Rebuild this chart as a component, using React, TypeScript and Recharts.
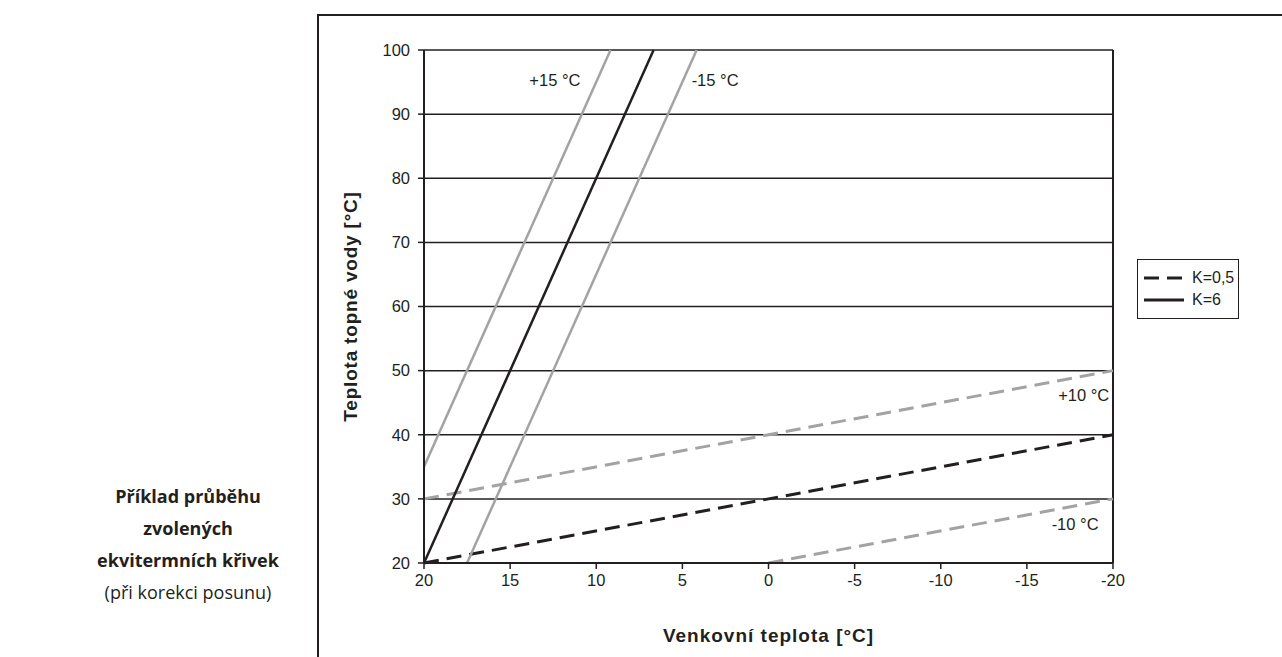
import {
  CartesianGrid,
  Line,
  LineChart,
  ReferenceDot,
  ReferenceLine,
  XAxis,
  YAxis,
} from "recharts";

const W = 1282;
const H = 657;
const INK = "#231f20";
const GREY = "#a3a3a3";
const FONT = "'Liberation Sans', Arial, sans-serif";

type Pt = { x: number; y: number };

// outdoor temperature axis runs from +20 down to -20
const X_TICKS = [20, 15, 10, 5, 0, -5, -10, -15, -20];
const Y_TICKS = [20, 30, 40, 50, 60, 70, 80, 90, 100];

// steep curves, K=6
const k6Base: Pt[] = [
  { x: 20, y: 20 },
  { x: 6.67, y: 100 },
];
const k6Plus15: Pt[] = [
  { x: 20, y: 35 },
  { x: 9.17, y: 100 },
];
const k6Minus15: Pt[] = [
  { x: 17.5, y: 20 },
  { x: 4.17, y: 100 },
];

// flat curves, K=0,5
const k05Base: Pt[] = [
  { x: 20, y: 20 },
  { x: -20, y: 40 },
];
const k05Plus10: Pt[] = [
  { x: 20, y: 30 },
  { x: -20, y: 50 },
];
const k05Minus10: Pt[] = [
  { x: 0, y: 20 },
  { x: -20, y: 30 },
];

const SHIFT_LABELS = [
  { text: "+15 °C", x: 12.4, y: 95.3 },
  { text: "-15 °C", x: 3.1, y: 95.3 },
  { text: "+10 °C", x: -18.3, y: 46.2 },
  { text: "-10 °C", x: -17.8, y: 26.1 },
];

const LEGEND = [
  { name: "K=0,5", dash: "15 8" },
  { name: "K=6", dash: undefined },
];

const TITLE = ["Příklad průběhu", "zvolených", "ekvitermních křivek"];
const SUBTITLE = "(při korekci posunu)";

function ShiftLabel({ text, x, y }: { text: string; x: number; y: number }) {
  return (
    <ReferenceDot
      key={text}
      x={x}
      y={y}
      r={0}
      fill="none"
      stroke="none"
      ifOverflow="visible"
      label={{ value: text, position: "center", fill: INK, fontSize: 16.5, fontFamily: FONT }}
    />
  );
}

function LegendBox() {
  return (
    <div
      style={{
        position: "absolute",
        left: 1137,
        top: 259,
        width: 94,
        border: `1.5px solid ${INK}`,
        background: "#fff",
        padding: "7px 0 7px 6px",
        fontFamily: FONT,
        fontSize: 16,
        color: INK,
      }}
    >
      {LEGEND.map((item) => (
        <div key={item.name} style={{ display: "flex", alignItems: "center", height: 22 }}>
          <svg width={40} height={6} style={{ marginRight: 8 }}>
            <line x1={0} y1={3} x2={40} y2={3} stroke={INK} strokeWidth={3} strokeDasharray={item.dash} />
          </svg>
          {item.name}
        </div>
      ))}
    </div>
  );
}

export default function App() {
  return (
    <div style={{ position: "absolute", left: 0, top: 0, width: W, height: H, background: "#fff", overflow: "hidden" }}>
      {/* frame around the diagram */}
      <div
        style={{
          position: "absolute",
          left: 317,
          top: 14,
          width: W,
          height: H,
          borderLeft: `2px solid ${INK}`,
          borderTop: `2px solid ${INK}`,
        }}
      />

      <div
        style={{
          position: "absolute",
          left: 68,
          top: 480,
          width: 240,
          textAlign: "center",
          fontFamily: "'Open Sans', 'Noto Sans', sans-serif",
          fontSize: 18,
          lineHeight: "32px",
          color: INK,
        }}
      >
        {TITLE.map((t) => (
          <div key={t} style={{ fontWeight: 700 }}>
            {t}
          </div>
        ))}
        <div>{SUBTITLE}</div>
      </div>

      <div style={{ position: "absolute", left: 0, top: 0 }}>
        <LineChart width={W} height={H} margin={{ top: 50, right: 169, bottom: 0, left: 276 }}>
          <CartesianGrid vertical={false} stroke={INK} strokeWidth={1.5} horizontalValues={Y_TICKS} />
          <XAxis
            type="number"
            dataKey="x"
            domain={[-20, 20]}
            reversed
            ticks={X_TICKS}
            interval={0}
            height={94}
            axisLine={{ stroke: INK, strokeWidth: 2 }}
            tickLine={{ stroke: INK, strokeWidth: 1.5 }}
            tickSize={6}
            tickMargin={5}
            tick={{ fill: INK, fontSize: 16.5, fontFamily: FONT }}
            label={{
              value: "Venkovní teplota [°C]",
              position: "insideBottom",
              offset: 15,
              fill: INK,
              fontSize: 19,
              fontWeight: 700,
              letterSpacing: 1,
              fontFamily: FONT,
            }}
          />
          <YAxis
            type="number"
            dataKey="y"
            domain={[20, 100]}
            ticks={Y_TICKS}
            interval={0}
            width={148}
            axisLine={{ stroke: INK, strokeWidth: 2 }}
            tickLine={{ stroke: INK, strokeWidth: 1.5 }}
            tickSize={6}
            tickMargin={8}
            tick={{ fill: INK, fontSize: 16.5, fontFamily: FONT }}
            label={{
              value: "Teplota topné vody [°C]",
              angle: -90,
              position: "center",
              fill: INK,
              fontSize: 19,
              fontWeight: 700,
              letterSpacing: 0.8,
              fontFamily: FONT,
            }}
          />
          <ReferenceLine x={-20} stroke={INK} strokeWidth={2} />

          <Line data={k05Plus10} dataKey="y" stroke={GREY} strokeWidth={3} strokeDasharray="15 8" dot={false} isAnimationActive={false} />
          <Line data={k05Minus10} dataKey="y" stroke={GREY} strokeWidth={3} strokeDasharray="15 8" dot={false} isAnimationActive={false} />
          <Line data={k05Base} dataKey="y" stroke={INK} strokeWidth={3} strokeDasharray="15 8" dot={false} isAnimationActive={false} />
          <Line data={k6Plus15} dataKey="y" stroke={GREY} strokeWidth={2.5} dot={false} isAnimationActive={false} />
          <Line data={k6Minus15} dataKey="y" stroke={GREY} strokeWidth={2.5} dot={false} isAnimationActive={false} />
          <Line data={k6Base} dataKey="y" stroke={INK} strokeWidth={2.5} dot={false} isAnimationActive={false} />

          {SHIFT_LABELS.map((l) => ShiftLabel(l))}
        </LineChart>
      </div>

      <LegendBox />
    </div>
  );
}
